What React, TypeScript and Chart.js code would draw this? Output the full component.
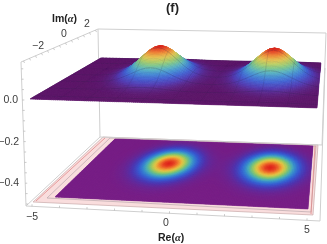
import React, { useEffect, useRef } from "react";
import { Chart, registerables } from "chart.js";

Chart.register(...registerables);

// Height cross-sections (share of the peak height)
const RE_PROFILE = [0, 0, 0, .001, .002, .005, .01, .02, .04, .07, .12, .195, .3, .43, .58, .73, .87, .965, 1, .965, .87, .73, .58, .43, .3, .195, .12, .075, .05, .035, .035, .05, .075, .12, .195, .3, .43, .58, .73, .87, .965, 1, .965, .87, .73, .58, .43, .3, .195, .12, .07];
const IM_PROFILE = [.002, .004, .008, .015, .025, .042, .067, .103, .153, .218, .3, .398, .508, .625, .74, .844, .927, .981, 1, .981, .927, .844, .74, .625, .508, .398, .3, .218, .153, .103, .067, .042, .025];
const PEAK = 0.165;
const FLOOR_Z = -0.5;

const RE_TICKS = [-5, -4, -3, -2, -1, 0, 1, 2, 3, 4, 5];
const RE_LABELS = ["−5", "0", "5"];
const IM_TICK_LABELS = ["−2", "0", "2"];
const Z_TICK_LABELS = ["0.0", "−0.2", "−0.4"];

const RAINBOW = [
  [118, 28, 132], [76, 52, 176], [54, 88, 208], [52, 130, 208], [72, 170, 186],
  [112, 192, 128], [172, 202, 88], [226, 196, 70], [240, 150, 50], [235, 90, 40], [220, 30, 25],
];

// Screen outline of the plates, as [front-left, front-right, back-right, back-left]
const SURFACE_QUAD = [[30, 99], [317, 108], [321, 63], [101, 58]];
const PINK_QUAD = [[33, 202], [313, 215], [318, 145], [103, 137]];
const GREY_QUAD = [[47, 198], [311, 212], [316, 146], [110, 138]];
const DENSITY_QUAD = [[55, 197], [308, 209], [313, 146], [115, 139]];
const BOX_LINES = [
  [[21, 62], [98, 29]], [[98, 29], [326, 33]], [[21, 62], [26, 206]], [[98, 29], [100, 137]],
  [[326, 33], [322, 145]], [[325, 68], [320, 221]], [[26, 206], [320, 221]], [[26, 206], [100, 137]], [[100, 137], [322, 145]],
];

function homography(q: number[][]) {
  const [[x0, y0], [x1, y1], [x2, y2], [x3, y3]] = q;
  const dx1 = x1 - x2, dx2 = x3 - x2, sx = x0 - x1 + x2 - x3;
  const dy1 = y1 - y2, dy2 = y3 - y2, sy = y0 - y1 + y2 - y3;
  const den = dx1 * dy2 - dx2 * dy1;
  const g = (sx * dy2 - dx2 * sy) / den, h = (dx1 * sy - sx * dy1) / den;
  const a = x1 - x0 + g * x1, b = x3 - x0 + h * x3, d = y1 - y0 + g * y1, e = y3 - y0 + h * y3;
  return (u: number, v: number) => {
    const w = g * u + h * v + 1;
    return [(a * u + b * v + x0) / w, (d * u + e * v + y0) / w];
  };
}

const surf = homography(SURFACE_QUAD);
const pink = homography(PINK_QUAD);
const dens = homography(DENSITY_QUAD);
const COLS = RE_PROFILE.length, ROWS = IM_PROFILE.length;
const SUB = 3;

function surfacePoints() {
  const out: { x: number; y: number }[] = [];
  for (let r = 0; r < ROWS; r++) for (let c = 0; c < COLS; c++) {
    const u = c / (COLS - 1), v = r / (ROWS - 1);
    const z = PEAK * RE_PROFILE[c] * IM_PROFILE[r];
    const s = surf(u, v), f = pink(u, v), k = z / -FLOOR_Z;
    out.push({ x: s[0] + (s[0] - f[0]) * k, y: s[1] + (s[1] - f[1]) * k });
  }
  return out;
}
function floorPoints() {
  const out: { x: number; y: number }[] = [];
  for (let r = 0; r < ROWS; r++) for (let c = 0; c < COLS; c++) {
    const p = dens(c / (COLS - 1), r / (ROWS - 1));
    out.push({ x: p[0], y: p[1] });
  }
  return out;
}

function color(value: number, lit: boolean) {
  const t = Math.pow(Math.max(0, Math.min(1, value)), 1.15);
  const p = t * (RAINBOW.length - 1);
  const i = Math.min(RAINBOW.length - 2, Math.floor(p)), f = p - i;
  let rgb = RAINBOW[i].map((a, k) => a + (RAINBOW[i + 1][k] - a) * f);
  if (lit) {
    const g = 4 * t * (1 - t) * 0.1;
    const dark = t < 0.1 ? 0.8 + t * 2 : 1;
    rgb = rgb.map((a) => a * dark + (255 - a * dark) * g);
  }
  return `rgb(${rgb.map(Math.round).join(",")})`;
}

const meshPlugin = {
  id: "mesh",
  beforeDatasetsDraw(chart: any) {
    const ctx = chart.ctx;
    const xs = chart.scales.x, ys = chart.scales.y;
    const poly = (q: number[][], fill: string | null, stroke: string | null, w = 0.7) => {
      ctx.beginPath();
      q.forEach((p, i) => {
        const X = xs.getPixelForValue(p[0]), Y = ys.getPixelForValue(p[1]);
        if (i) ctx.lineTo(X, Y); else ctx.moveTo(X, Y);
      });
      ctx.closePath();
      if (fill) { ctx.fillStyle = fill; ctx.fill(); }
      if (stroke) { ctx.strokeStyle = stroke; ctx.lineWidth = w; ctx.stroke(); }
    };
    ctx.save();
    poly(PINK_QUAD, "#f9dddd", "#c9a9a9");
    poly(GREY_QUAD, null, "#b9a8ac");
    ctx.strokeStyle = "#e08a8a"; ctx.lineWidth = 0.8;
    ctx.beginPath();
    ctx.moveTo(36, 201); ctx.lineTo(105, 138);
    ctx.moveTo(315, 146); ctx.lineTo(311, 214);
    ctx.stroke();
    ctx.restore();
  },
  afterDatasetsDraw(chart: any) {
    const ctx = chart.ctx;
    const quad = (p: number[][], style: string) => {
      ctx.beginPath();
      ctx.moveTo(p[0][0], p[0][1]); ctx.lineTo(p[1][0], p[1][1]); ctx.lineTo(p[2][0], p[2][1]); ctx.lineTo(p[3][0], p[3][1]);
      ctx.closePath();
      ctx.fillStyle = style; ctx.strokeStyle = style; ctx.lineWidth = 0.6;
      ctx.fill(); ctx.stroke();
    };
    const paint = (idx: number, lit: boolean, mesh: boolean) => {
      const pts = chart.getDatasetMeta(idx).data;
      const at = (r: number, c: number) => pts[r * COLS + c];
      for (let r = ROWS - 2; r >= 0; r--) for (let c = 0; c < COLS - 1; c++) {
        const q00 = at(r, c), q10 = at(r, c + 1), q11 = at(r + 1, c + 1), q01 = at(r + 1, c);
        const spot = (a: number, b: number) => {
          const x0 = q00.x + (q10.x - q00.x) * a, y0 = q00.y + (q10.y - q00.y) * a;
          const x1 = q01.x + (q11.x - q01.x) * a, y1 = q01.y + (q11.y - q01.y) * a;
          return [x0 + (x1 - x0) * b, y0 + (y1 - y0) * b];
        };
        const re = (a: number) => RE_PROFILE[c] + (RE_PROFILE[c + 1] - RE_PROFILE[c]) * a;
        const im = (b: number) => IM_PROFILE[r] + (IM_PROFILE[r + 1] - IM_PROFILE[r]) * b;
        for (let j = SUB - 1; j >= 0; j--) for (let i = 0; i < SUB; i++) {
          const a = i / SUB, b = j / SUB, d = 1 / SUB;
          quad([spot(a, b), spot(a + d, b), spot(a + d, b + d), spot(a, b + d)],
            color(re(a + d / 2) * im(b + d / 2), lit));
        }
        if (mesh) {
          ctx.lineWidth = 0.5;
          ctx.beginPath();
          ctx.moveTo(q01.x, q01.y); ctx.lineTo(q11.x, q11.y);
          ctx.strokeStyle = r % 5 === 1 ? "rgba(40,30,70,0.42)" : "rgba(50,10,70,0.1)";
          ctx.stroke();
          if (c % 5 === 0) {
            ctx.beginPath();
            ctx.moveTo(q00.x, q00.y); ctx.lineTo(q01.x, q01.y);
            ctx.strokeStyle = "rgba(40,30,70,0.3)"; ctx.stroke();
          }
        }
      }
    };
    paint(0, false, false);
    paint(1, true, true);

    // ticks on the box edges and the text
    ctx.save();
    ctx.strokeStyle = "#b5b5b5"; ctx.lineWidth = 0.7;
    RE_TICKS.forEach((t) => {
      const x = 32 + (t + 5) * 27.5, y = 206 + (x - 26) * 15 / 294;
      ctx.beginPath(); ctx.moveTo(x, y); ctx.lineTo(x, y - 2); ctx.stroke();
    });
    for (let t = -3; t <= 3; t += 0.5) {
      const x = 59.5 + t * 12, y = 62 - (x - 21) * 33 / 77;
      ctx.beginPath(); ctx.moveTo(x, y); ctx.lineTo(x + 1, y + 2); ctx.stroke();
    }
    for (let z = 3; z >= -10; z--) {
      const y = 100 - z * 10.4, x = 21 + (y - 62) * 5 / 144;
      ctx.beginPath(); ctx.moveTo(x, y); ctx.lineTo(x + 2, y); ctx.stroke();
    }
    ctx.fillStyle = "#3c3c3c";
    ctx.font = '10.5px "Liberation Sans"';
    ctx.textBaseline = "middle";
    ctx.textAlign = "center";
    ctx.fillText(RE_LABELS[0], 32, 217);
    ctx.fillText(RE_LABELS[1], 166, 223);
    ctx.fillText(RE_LABELS[2], 307, 230);
    ctx.fillText(IM_TICK_LABELS[0], 38, 46);
    ctx.fillText(IM_TICK_LABELS[1], 64, 34);
    ctx.fillText(IM_TICK_LABELS[2], 87, 24);
    ctx.textAlign = "right";
    ctx.fillText(Z_TICK_LABELS[0], 18, 100);
    ctx.fillText(Z_TICK_LABELS[1], 19, 142);
    ctx.fillText(Z_TICK_LABELS[2], 19, 183);
    ctx.textAlign = "left";
    const label = (head: string, x: number, y: number) => {
      ctx.fillStyle = "#222";
      ctx.font = 'bold 10.5px "Liberation Sans"';
      ctx.fillText(head, x, y); x += ctx.measureText(head).width;
      ctx.font = 'italic bold 10.5px "Liberation Serif"';
      ctx.fillText("α", x, y); x += ctx.measureText("α").width;
      ctx.font = 'bold 10.5px "Liberation Sans"';
      ctx.fillText(")", x, y);
    };
    label("Im(", 52, 19);
    label("Re(", 158, 238);
    ctx.fillStyle = "#222";
    ctx.font = 'bold 13px "Liberation Sans"';
    ctx.fillText("(f)", 166, 8);
    ctx.restore();
  },
};

export default function App() {
  const ref = useRef<HTMLCanvasElement>(null);
  useEffect(() => {
    document.body.style.margin = "0";
    const boxSets = BOX_LINES.map((seg) => ({
      type: "line" as const,
      data: seg.map(([x, y]) => ({ x, y })),
      borderColor: "#cfcfcf",
      borderWidth: 1,
      pointRadius: 0,
      order: 5,
    }));
    const chart = new Chart(ref.current!, {
      type: "scatter",
      data: {
        datasets: [
          { data: floorPoints(), pointRadius: 0, showLine: false, label: "density" },
          { data: surfacePoints(), pointRadius: 0, showLine: false, label: "surface" },
          ...boxSets,
        ] as any,
      },
      options: {
        animation: false,
        responsive: false,
        parsing: false,
        normalized: true,
        layout: { padding: 0 },
        plugins: { legend: { display: false }, tooltip: { enabled: false } },
        scales: {
          x: { type: "linear", min: 0, max: 327, display: false },
          y: { type: "linear", min: 0, max: 244, reverse: true, display: false },
        },
      } as any,
      plugins: [meshPlugin],
    });
    return () => chart.destroy();
  }, []);
  return <canvas ref={ref} width={327} height={244} style={{ display: "block" }} />;
}
